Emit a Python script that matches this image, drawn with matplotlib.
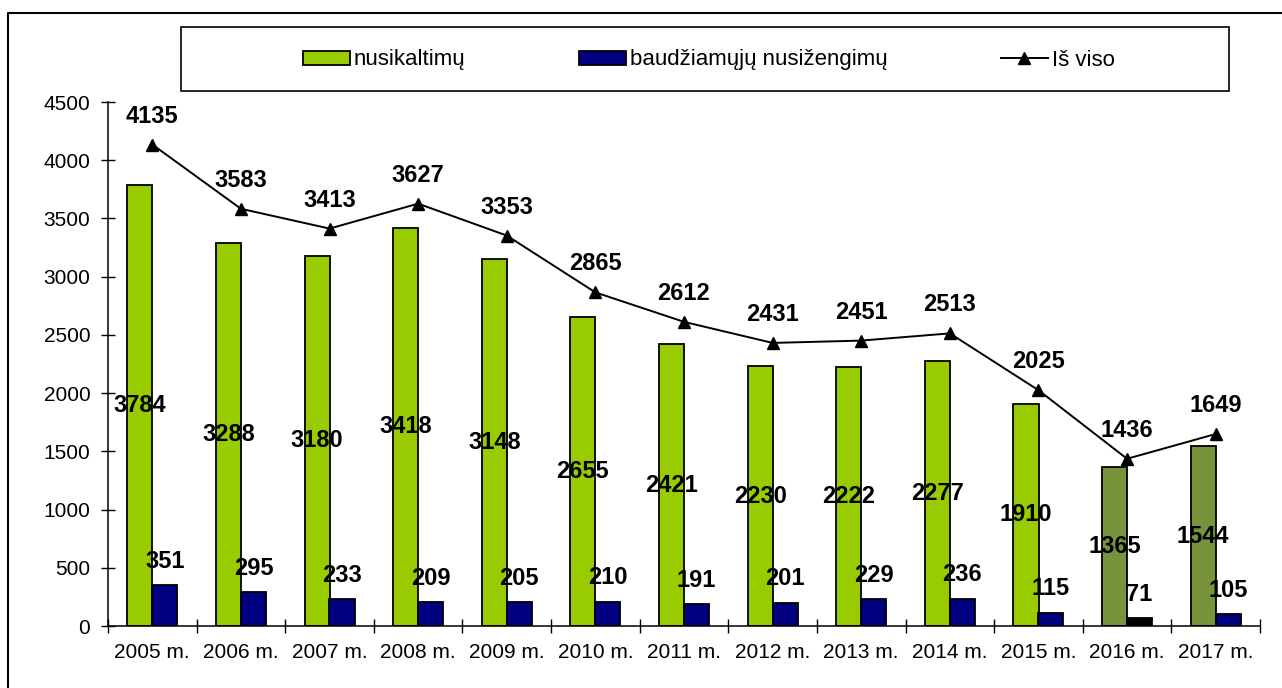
import matplotlib
matplotlib.use('Agg')
import matplotlib.pyplot as plt
from matplotlib.lines import Line2D
from matplotlib.patches import Rectangle, Patch
import numpy as np

plt.rcParams['font.family'] = ['Liberation Sans', 'DejaVu Sans']

years = ['2005 m.', '2006 m.', '2007 m.', '2008 m.', '2009 m.', '2010 m.', '2011 m.',
         '2012 m.', '2013 m.', '2014 m.', '2015 m.', '2016 m.', '2017 m.']
nusikaltimu = [3784, 3288, 3180, 3418, 3148, 2655, 2421, 2230, 2222, 2277, 1910, 1365, 1544]
nusizengimu = [351, 295, 233, 209, 205, 210, 191, 201, 229, 236, 115, 71, 105]
is_viso = [4135, 3583, 3413, 3627, 3353, 2865, 2612, 2431, 2451, 2513, 2025, 1436, 1649]

green = '#99CC00'
olive = '#77933C'
navy = '#000080'
green_cols = [green] * 11 + [olive, olive]
blue_cols = [navy] * 11 + ['#000000', navy]

W, H = 1282, 688
fig = plt.figure(figsize=(W / 100, H / 100), dpi=100)
ax = fig.add_axes([108 / W, 1 - 626 / H, (1260 - 108) / W, (626 - 102) / H])

x = np.arange(len(years))
bw = 0.283
off = 0.141
ax.bar(x - off, nusikaltimu, bw, color=green_cols, edgecolor='black', linewidth=1.3, zorder=2)
ax.bar(x + off, nusizengimu, bw, color=blue_cols, edgecolor='black', linewidth=1.3, zorder=2)
ax.plot(x, is_viso, color='black', lw=1.4, marker='^', markersize=9, zorder=3)

lab = dict(fontsize=17, fontweight='bold', ha='center', va='center', zorder=4)
for i in x:
    ax.text(i - off, nusikaltimu[i] / 2, str(nusikaltimu[i]), **lab)
    ax.annotate(str(nusizengimu[i]), (i + off, nusizengimu[i]), xytext=(0, 17),
                textcoords='offset points', **lab)
    ax.annotate(str(is_viso[i]), (i, is_viso[i]), xytext=(0, 20.5),
                textcoords='offset points', **lab)

ax.set_xlim(-0.5, len(years) - 0.5)
ax.set_ylim(0, 4500)
ax.set_yticks(range(0, 4501, 500))
ax.set_xticks(x)
ax.set_xticklabels(years)
ax.set_xticks(np.arange(-0.5, len(years)), minor=True)
ax.tick_params(axis='x', which='major', length=0, pad=12, labelsize=15)
ax.tick_params(axis='x', which='minor', direction='inout', length=9.5, width=1)
ax.tick_params(axis='y', direction='inout', length=9.5, width=1, pad=8, labelsize=15)
for s in ['top', 'right']:
    ax.spines[s].set_visible(False)
for s in ['left', 'bottom']:
    ax.spines[s].set_linewidth(1.1)

# legend box
fig.patches.append(Rectangle((181 / W, 1 - 91 / H), (1229 - 181) / W, (91 - 27) / H,
                             transform=fig.transFigure, fill=False, edgecolor='black',
                             linewidth=1.2))
handles = [Patch(facecolor=green, edgecolor='black', linewidth=1.3),
           Patch(facecolor=navy, edgecolor='black', linewidth=1.3),
           Line2D([], [], color='black', lw=1.4, marker='^', markersize=9)]
fig.legend(handles, ['nusikaltimų', 'baudžiamųjų nusižengimų', 'Iš viso'],
           loc='center', bbox_to_anchor=(709 / W, 1 - 60 / H), ncol=3, frameon=False,
           fontsize=16, handlelength=2.1, handleheight=0.6, handletextpad=0.2,
           columnspacing=5.1)

# outer border
fig.lines.append(Line2D([8 / W, 8 / W, 1], [0, 1 - 13 / H, 1 - 13 / H],
                        transform=fig.transFigure, color='black', lw=1.5))

fig.savefig('out.png', dpi=100)
